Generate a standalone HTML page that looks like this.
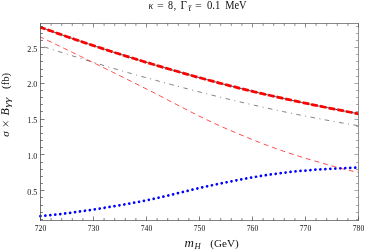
<!DOCTYPE html>
<html><head><meta charset="utf-8"><style>
html,body{margin:0;padding:0;background:#fff;}
svg{display:block;will-change:transform;transform:translateZ(0)}
text{font-family:"Liberation Serif",serif;fill:#111}
</style></head><body>
<svg width="374" height="252" viewBox="0 0 374 252">
<defs><clipPath id="c"><rect x="38.9" y="23.5" width="321.2" height="197.0"/></clipPath></defs>
<g clip-path="url(#c)" fill="none">
<path d="M40.40,45.70 L43.07,46.55 L45.75,47.40 L48.42,48.25 L51.10,49.09 L53.77,49.94 L56.44,50.79 L59.12,51.64 L61.79,52.48 L64.47,53.33 L67.14,54.17 L69.81,55.01 L72.49,55.85 L75.16,56.69 L77.84,57.52 L80.51,58.36 L83.18,59.19 L85.86,60.02 L88.53,60.85 L91.21,61.67 L93.88,62.49 L96.55,63.31 L99.23,64.12 L101.90,64.93 L104.57,65.73 L107.25,66.54 L109.92,67.33 L112.60,68.13 L115.27,68.92 L117.94,69.70 L120.62,70.48 L123.29,71.25 L125.97,72.02 L128.64,72.79 L131.31,73.55 L133.99,74.31 L136.66,75.06 L139.34,75.81 L142.01,76.55 L144.68,77.30 L147.36,78.04 L150.03,78.77 L152.71,79.51 L155.38,80.24 L158.05,80.97 L160.73,81.70 L163.40,82.42 L166.08,83.15 L168.75,83.87 L171.42,84.59 L174.10,85.31 L176.77,86.02 L179.45,86.73 L182.12,87.44 L184.79,88.15 L187.47,88.85 L190.14,89.55 L192.82,90.25 L195.49,90.94 L198.16,91.63 L200.84,92.31 L203.51,92.99 L206.18,93.67 L208.86,94.34 L211.53,95.01 L214.21,95.67 L216.88,96.34 L219.55,96.99 L222.23,97.65 L224.90,98.30 L227.58,98.94 L230.25,99.58 L232.92,100.22 L235.60,100.86 L238.27,101.49 L240.95,102.12 L243.62,102.75 L246.29,103.37 L248.97,103.99 L251.64,104.61 L254.32,105.22 L256.99,105.83 L259.66,106.44 L262.34,107.04 L265.01,107.63 L267.69,108.23 L270.36,108.82 L273.03,109.40 L275.71,109.98 L278.38,110.55 L281.06,111.12 L283.73,111.69 L286.40,112.25 L289.08,112.81 L291.75,113.36 L294.43,113.90 L297.10,114.44 L299.77,114.98 L302.45,115.51 L305.12,116.04 L307.79,116.56 L310.47,117.08 L313.14,117.60 L315.82,118.11 L318.49,118.62 L321.16,119.12 L323.84,119.62 L326.51,120.11 L329.19,120.60 L331.86,121.09 L334.53,121.57 L337.21,122.05 L339.88,122.52 L342.56,123.00 L345.23,123.46 L347.90,123.93 L350.58,124.39 L353.25,124.85 L355.93,125.30 L358.60,125.75" stroke="#444" stroke-width="0.68" stroke-dasharray="4.5 4.5 1 4.5" stroke-dashoffset="10.4"/>
<path d="M40.40,37.00 L43.07,38.27 L45.75,39.54 L48.42,40.82 L51.10,42.10 L53.77,43.38 L56.44,44.67 L59.12,45.96 L61.79,47.25 L64.47,48.54 L67.14,49.84 L69.81,51.14 L72.49,52.44 L75.16,53.74 L77.84,55.04 L80.51,56.35 L83.18,57.66 L85.86,58.97 L88.53,60.28 L91.21,61.59 L93.88,62.90 L96.55,64.22 L99.23,65.54 L101.90,66.86 L104.57,68.17 L107.25,69.49 L109.92,70.82 L112.60,72.14 L115.27,73.46 L117.94,74.78 L120.62,76.11 L123.29,77.43 L125.97,78.76 L128.64,80.08 L131.31,81.41 L133.99,82.74 L136.66,84.07 L139.34,85.41 L142.01,86.75 L144.68,88.10 L147.36,89.45 L150.03,90.80 L152.71,92.16 L155.38,93.52 L158.05,94.90 L160.73,96.28 L163.40,97.66 L166.08,99.05 L168.75,100.45 L171.42,101.84 L174.10,103.24 L176.77,104.64 L179.45,106.03 L182.12,107.42 L184.79,108.81 L187.47,110.18 L190.14,111.55 L192.82,112.91 L195.49,114.26 L198.16,115.59 L200.84,116.91 L203.51,118.21 L206.18,119.50 L208.86,120.77 L211.53,122.03 L214.21,123.27 L216.88,124.49 L219.55,125.70 L222.23,126.89 L224.90,128.07 L227.58,129.23 L230.25,130.38 L232.92,131.52 L235.60,132.66 L238.27,133.78 L240.95,134.89 L243.62,136.00 L246.29,137.11 L248.97,138.20 L251.64,139.28 L254.32,140.36 L256.99,141.42 L259.66,142.47 L262.34,143.51 L265.01,144.53 L267.69,145.54 L270.36,146.53 L273.03,147.51 L275.71,148.48 L278.38,149.43 L281.06,150.37 L283.73,151.29 L286.40,152.20 L289.08,153.10 L291.75,153.98 L294.43,154.84 L297.10,155.69 L299.77,156.53 L302.45,157.35 L305.12,158.16 L307.79,158.95 L310.47,159.74 L313.14,160.52 L315.82,161.29 L318.49,162.06 L321.16,162.84 L323.84,163.61 L326.51,164.38 L329.19,165.14 L331.86,165.89 L334.53,166.63 L337.21,167.36 L339.88,168.07 L342.56,168.76 L345.23,169.42 L347.90,170.06 L350.58,170.67 L353.25,171.25 L355.93,171.79 L358.60,172.30" stroke="#ff0000" stroke-width="0.72" stroke-dasharray="5.0 3.9" stroke-dashoffset="1.4"/>
<path d="M40.40,27.20 L43.07,28.17 L45.75,29.13 L48.42,30.09 L51.10,31.05 L53.77,32.00 L56.44,32.94 L59.12,33.89 L61.79,34.82 L64.47,35.76 L67.14,36.69 L69.81,37.61 L72.49,38.53 L75.16,39.45 L77.84,40.36 L80.51,41.27 L83.18,42.18 L85.86,43.08 L88.53,43.97 L91.21,44.86 L93.88,45.75 L96.55,46.63 L99.23,47.51 L101.90,48.39 L104.57,49.26 L107.25,50.13 L109.92,50.99 L112.60,51.85 L115.27,52.70 L117.94,53.55 L120.62,54.40 L123.29,55.24 L125.97,56.07 L128.64,56.91 L131.31,57.74 L133.99,58.56 L136.66,59.38 L139.34,60.20 L142.01,61.02 L144.68,61.83 L147.36,62.63 L150.03,63.44 L152.71,64.24 L155.38,65.03 L158.05,65.83 L160.73,66.61 L163.40,67.40 L166.08,68.18 L168.75,68.96 L171.42,69.74 L174.10,70.51 L176.77,71.28 L179.45,72.04 L182.12,72.80 L184.79,73.56 L187.47,74.32 L190.14,75.07 L192.82,75.81 L195.49,76.56 L198.16,77.29 L200.84,78.03 L203.51,78.76 L206.18,79.49 L208.86,80.21 L211.53,80.93 L214.21,81.65 L216.88,82.36 L219.55,83.06 L222.23,83.76 L224.90,84.46 L227.58,85.15 L230.25,85.84 L232.92,86.52 L235.60,87.20 L238.27,87.87 L240.95,88.54 L243.62,89.20 L246.29,89.85 L248.97,90.50 L251.64,91.15 L254.32,91.79 L256.99,92.42 L259.66,93.05 L262.34,93.68 L265.01,94.30 L267.69,94.92 L270.36,95.53 L273.03,96.14 L275.71,96.74 L278.38,97.34 L281.06,97.93 L283.73,98.53 L286.40,99.11 L289.08,99.70 L291.75,100.28 L294.43,100.85 L297.10,101.43 L299.77,102.00 L302.45,102.56 L305.12,103.13 L307.79,103.69 L310.47,104.24 L313.14,104.79 L315.82,105.35 L318.49,105.89 L321.16,106.44 L323.84,106.98 L326.51,107.52 L329.19,108.05 L331.86,108.59 L334.53,109.12 L337.21,109.65 L339.88,110.17 L342.56,110.70 L345.23,111.22 L347.90,111.74 L350.58,112.26 L353.25,112.77 L355.93,113.29 L358.60,113.80" stroke="#333" stroke-width="0.9"/>
<path d="M40.40,27.20 L43.07,28.17 L45.75,29.13 L48.42,30.09 L51.10,31.05 L53.77,32.00 L56.44,32.94 L59.12,33.89 L61.79,34.82 L64.47,35.76 L67.14,36.69 L69.81,37.61 L72.49,38.53 L75.16,39.45 L77.84,40.36 L80.51,41.27 L83.18,42.18 L85.86,43.08 L88.53,43.97 L91.21,44.86 L93.88,45.75 L96.55,46.63 L99.23,47.51 L101.90,48.39 L104.57,49.26 L107.25,50.13 L109.92,50.99 L112.60,51.85 L115.27,52.70 L117.94,53.55 L120.62,54.40 L123.29,55.24 L125.97,56.07 L128.64,56.91 L131.31,57.74 L133.99,58.56 L136.66,59.38 L139.34,60.20 L142.01,61.02 L144.68,61.83 L147.36,62.63 L150.03,63.44 L152.71,64.24 L155.38,65.03 L158.05,65.83 L160.73,66.61 L163.40,67.40 L166.08,68.18 L168.75,68.96 L171.42,69.74 L174.10,70.51 L176.77,71.28 L179.45,72.04 L182.12,72.80 L184.79,73.56 L187.47,74.32 L190.14,75.07 L192.82,75.81 L195.49,76.56 L198.16,77.29 L200.84,78.03 L203.51,78.76 L206.18,79.49 L208.86,80.21 L211.53,80.93 L214.21,81.65 L216.88,82.36 L219.55,83.06 L222.23,83.76 L224.90,84.46 L227.58,85.15 L230.25,85.84 L232.92,86.52 L235.60,87.20 L238.27,87.87 L240.95,88.54 L243.62,89.20 L246.29,89.85 L248.97,90.50 L251.64,91.15 L254.32,91.79 L256.99,92.42 L259.66,93.05 L262.34,93.68 L265.01,94.30 L267.69,94.92 L270.36,95.53 L273.03,96.14 L275.71,96.74 L278.38,97.34 L281.06,97.93 L283.73,98.53 L286.40,99.11 L289.08,99.70 L291.75,100.28 L294.43,100.85 L297.10,101.43 L299.77,102.00 L302.45,102.56 L305.12,103.13 L307.79,103.69 L310.47,104.24 L313.14,104.79 L315.82,105.35 L318.49,105.89 L321.16,106.44 L323.84,106.98 L326.51,107.52 L329.19,108.05 L331.86,108.59 L334.53,109.12 L337.21,109.65 L339.88,110.17 L342.56,110.70 L345.23,111.22 L347.90,111.74 L350.58,112.26 L353.25,112.77 L355.93,113.29 L358.60,113.80" stroke="#ff0000" stroke-width="2.75" stroke-dasharray="6.7 2.15" stroke-dashoffset="1.3"/>
<path d="M40.40,216.10 L43.07,215.88 L45.75,215.64 L48.42,215.38 L51.10,215.11 L53.77,214.83 L56.44,214.53 L59.12,214.22 L61.79,213.90 L64.47,213.57 L67.14,213.23 L69.81,212.87 L72.49,212.51 L75.16,212.15 L77.84,211.77 L80.51,211.39 L83.18,211.01 L85.86,210.61 L88.53,210.22 L91.21,209.82 L93.88,209.42 L96.55,209.01 L99.23,208.60 L101.90,208.19 L104.57,207.77 L107.25,207.35 L109.92,206.92 L112.60,206.49 L115.27,206.05 L117.94,205.60 L120.62,205.15 L123.29,204.68 L125.97,204.21 L128.64,203.73 L131.31,203.25 L133.99,202.75 L136.66,202.25 L139.34,201.73 L142.01,201.20 L144.68,200.67 L147.36,200.12 L150.03,199.56 L152.71,199.00 L155.38,198.42 L158.05,197.83 L160.73,197.24 L163.40,196.63 L166.08,196.02 L168.75,195.39 L171.42,194.76 L174.10,194.12 L176.77,193.48 L179.45,192.83 L182.12,192.18 L184.79,191.52 L187.47,190.87 L190.14,190.23 L192.82,189.58 L195.49,188.95 L198.16,188.32 L200.84,187.71 L203.51,187.11 L206.18,186.51 L208.86,185.93 L211.53,185.36 L214.21,184.80 L216.88,184.24 L219.55,183.69 L222.23,183.15 L224.90,182.61 L227.58,182.08 L230.25,181.55 L232.92,181.03 L235.60,180.51 L238.27,179.99 L240.95,179.48 L243.62,178.98 L246.29,178.48 L248.97,178.00 L251.64,177.52 L254.32,177.05 L256.99,176.60 L259.66,176.15 L262.34,175.72 L265.01,175.31 L267.69,174.90 L270.36,174.51 L273.03,174.14 L275.71,173.77 L278.38,173.42 L281.06,173.08 L283.73,172.75 L286.40,172.43 L289.08,172.13 L291.75,171.83 L294.43,171.55 L297.10,171.28 L299.77,171.02 L302.45,170.77 L305.12,170.54 L307.79,170.31 L310.47,170.09 L313.14,169.89 L315.82,169.69 L318.49,169.51 L321.16,169.33 L323.84,169.16 L326.51,169.00 L329.19,168.84 L331.86,168.70 L334.53,168.56 L337.21,168.43 L339.88,168.31 L342.56,168.19 L345.23,168.08 L347.90,167.97 L350.58,167.87 L353.25,167.78 L355.93,167.69 L358.60,167.60" stroke="#0000ff" stroke-width="2.75" stroke-dasharray="0.01 4.975" stroke-linecap="round"/>
</g>
<g stroke-width="0.75" fill="none" stroke-linecap="square">
<path d="M40.5,23.5 V220.5" stroke="#444"/><path d="M40.5,220.5 H358.5" stroke="#5a5a5a"/>
<path d="M40.5,23.5 H358.5" stroke="#606060"/><path d="M358.5,23.5 V220.5" stroke="#707070"/>
</g>
<g stroke="#444" stroke-width="0.7">
<line x1="40.50" y1="220.5" x2="40.50" y2="216.50"/>
<line x1="51.10" y1="220.5" x2="51.10" y2="218.10"/>
<line x1="61.70" y1="220.5" x2="61.70" y2="218.10"/>
<line x1="72.30" y1="220.5" x2="72.30" y2="218.10"/>
<line x1="82.90" y1="220.5" x2="82.90" y2="218.10"/>
<line x1="93.50" y1="220.5" x2="93.50" y2="216.50"/>
<line x1="104.10" y1="220.5" x2="104.10" y2="218.10"/>
<line x1="114.70" y1="220.5" x2="114.70" y2="218.10"/>
<line x1="125.30" y1="220.5" x2="125.30" y2="218.10"/>
<line x1="135.90" y1="220.5" x2="135.90" y2="218.10"/>
<line x1="146.50" y1="220.5" x2="146.50" y2="216.50"/>
<line x1="157.10" y1="220.5" x2="157.10" y2="218.10"/>
<line x1="167.70" y1="220.5" x2="167.70" y2="218.10"/>
<line x1="178.30" y1="220.5" x2="178.30" y2="218.10"/>
<line x1="188.90" y1="220.5" x2="188.90" y2="218.10"/>
<line x1="199.50" y1="220.5" x2="199.50" y2="216.50"/>
<line x1="210.10" y1="220.5" x2="210.10" y2="218.10"/>
<line x1="220.70" y1="220.5" x2="220.70" y2="218.10"/>
<line x1="231.30" y1="220.5" x2="231.30" y2="218.10"/>
<line x1="241.90" y1="220.5" x2="241.90" y2="218.10"/>
<line x1="252.50" y1="220.5" x2="252.50" y2="216.50"/>
<line x1="263.10" y1="220.5" x2="263.10" y2="218.10"/>
<line x1="273.70" y1="220.5" x2="273.70" y2="218.10"/>
<line x1="284.30" y1="220.5" x2="284.30" y2="218.10"/>
<line x1="294.90" y1="220.5" x2="294.90" y2="218.10"/>
<line x1="305.50" y1="220.5" x2="305.50" y2="216.50"/>
<line x1="316.10" y1="220.5" x2="316.10" y2="218.10"/>
<line x1="326.70" y1="220.5" x2="326.70" y2="218.10"/>
<line x1="337.30" y1="220.5" x2="337.30" y2="218.10"/>
<line x1="347.90" y1="220.5" x2="347.90" y2="218.10"/>
<line x1="358.50" y1="220.5" x2="358.50" y2="216.50"/>
<line x1="40.5" y1="219.50" x2="42.90" y2="219.50"/>
<line x1="40.5" y1="212.50" x2="42.90" y2="212.50"/>
<line x1="40.5" y1="205.50" x2="42.90" y2="205.50"/>
<line x1="40.5" y1="197.50" x2="42.90" y2="197.50"/>
<line x1="40.5" y1="190.50" x2="44.50" y2="190.50"/>
<line x1="40.5" y1="183.50" x2="42.90" y2="183.50"/>
<line x1="40.5" y1="176.50" x2="42.90" y2="176.50"/>
<line x1="40.5" y1="169.50" x2="42.90" y2="169.50"/>
<line x1="40.5" y1="162.50" x2="42.90" y2="162.50"/>
<line x1="40.5" y1="154.50" x2="44.50" y2="154.50"/>
<line x1="40.5" y1="147.50" x2="42.90" y2="147.50"/>
<line x1="40.5" y1="140.50" x2="42.90" y2="140.50"/>
<line x1="40.5" y1="133.50" x2="42.90" y2="133.50"/>
<line x1="40.5" y1="126.50" x2="42.90" y2="126.50"/>
<line x1="40.5" y1="119.50" x2="44.50" y2="119.50"/>
<line x1="40.5" y1="111.50" x2="42.90" y2="111.50"/>
<line x1="40.5" y1="104.50" x2="42.90" y2="104.50"/>
<line x1="40.5" y1="97.50" x2="42.90" y2="97.50"/>
<line x1="40.5" y1="90.50" x2="42.90" y2="90.50"/>
<line x1="40.5" y1="83.50" x2="44.50" y2="83.50"/>
<line x1="40.5" y1="76.50" x2="42.90" y2="76.50"/>
<line x1="40.5" y1="69.50" x2="42.90" y2="69.50"/>
<line x1="40.5" y1="61.50" x2="42.90" y2="61.50"/>
<line x1="40.5" y1="54.50" x2="42.90" y2="54.50"/>
<line x1="40.5" y1="47.50" x2="44.50" y2="47.50"/>
<line x1="40.5" y1="40.50" x2="42.90" y2="40.50"/>
<line x1="40.5" y1="33.50" x2="42.90" y2="33.50"/>
<line x1="40.5" y1="26.50" x2="42.90" y2="26.50"/>
</g>
<g stroke="#5a5a5a" stroke-width="0.7">
<line x1="40.50" y1="23.5" x2="40.50" y2="27.50"/>
<line x1="51.10" y1="23.5" x2="51.10" y2="25.90"/>
<line x1="61.70" y1="23.5" x2="61.70" y2="25.90"/>
<line x1="72.30" y1="23.5" x2="72.30" y2="25.90"/>
<line x1="82.90" y1="23.5" x2="82.90" y2="25.90"/>
<line x1="93.50" y1="23.5" x2="93.50" y2="27.50"/>
<line x1="104.10" y1="23.5" x2="104.10" y2="25.90"/>
<line x1="114.70" y1="23.5" x2="114.70" y2="25.90"/>
<line x1="125.30" y1="23.5" x2="125.30" y2="25.90"/>
<line x1="135.90" y1="23.5" x2="135.90" y2="25.90"/>
<line x1="146.50" y1="23.5" x2="146.50" y2="27.50"/>
<line x1="157.10" y1="23.5" x2="157.10" y2="25.90"/>
<line x1="167.70" y1="23.5" x2="167.70" y2="25.90"/>
<line x1="178.30" y1="23.5" x2="178.30" y2="25.90"/>
<line x1="188.90" y1="23.5" x2="188.90" y2="25.90"/>
<line x1="199.50" y1="23.5" x2="199.50" y2="27.50"/>
<line x1="210.10" y1="23.5" x2="210.10" y2="25.90"/>
<line x1="220.70" y1="23.5" x2="220.70" y2="25.90"/>
<line x1="231.30" y1="23.5" x2="231.30" y2="25.90"/>
<line x1="241.90" y1="23.5" x2="241.90" y2="25.90"/>
<line x1="252.50" y1="23.5" x2="252.50" y2="27.50"/>
<line x1="263.10" y1="23.5" x2="263.10" y2="25.90"/>
<line x1="273.70" y1="23.5" x2="273.70" y2="25.90"/>
<line x1="284.30" y1="23.5" x2="284.30" y2="25.90"/>
<line x1="294.90" y1="23.5" x2="294.90" y2="25.90"/>
<line x1="305.50" y1="23.5" x2="305.50" y2="27.50"/>
<line x1="316.10" y1="23.5" x2="316.10" y2="25.90"/>
<line x1="326.70" y1="23.5" x2="326.70" y2="25.90"/>
<line x1="337.30" y1="23.5" x2="337.30" y2="25.90"/>
<line x1="347.90" y1="23.5" x2="347.90" y2="25.90"/>
<line x1="358.50" y1="23.5" x2="358.50" y2="27.50"/>
</g>
<g stroke="#808080" stroke-width="0.7">
<line x1="358.5" y1="219.50" x2="356.10" y2="219.50"/>
<line x1="358.5" y1="212.50" x2="356.10" y2="212.50"/>
<line x1="358.5" y1="205.50" x2="356.10" y2="205.50"/>
<line x1="358.5" y1="197.50" x2="356.10" y2="197.50"/>
<line x1="358.5" y1="190.50" x2="354.50" y2="190.50"/>
<line x1="358.5" y1="183.50" x2="356.10" y2="183.50"/>
<line x1="358.5" y1="176.50" x2="356.10" y2="176.50"/>
<line x1="358.5" y1="169.50" x2="356.10" y2="169.50"/>
<line x1="358.5" y1="162.50" x2="356.10" y2="162.50"/>
<line x1="358.5" y1="154.50" x2="354.50" y2="154.50"/>
<line x1="358.5" y1="147.50" x2="356.10" y2="147.50"/>
<line x1="358.5" y1="140.50" x2="356.10" y2="140.50"/>
<line x1="358.5" y1="133.50" x2="356.10" y2="133.50"/>
<line x1="358.5" y1="126.50" x2="356.10" y2="126.50"/>
<line x1="358.5" y1="119.50" x2="354.50" y2="119.50"/>
<line x1="358.5" y1="111.50" x2="356.10" y2="111.50"/>
<line x1="358.5" y1="104.50" x2="356.10" y2="104.50"/>
<line x1="358.5" y1="97.50" x2="356.10" y2="97.50"/>
<line x1="358.5" y1="90.50" x2="356.10" y2="90.50"/>
<line x1="358.5" y1="83.50" x2="354.50" y2="83.50"/>
<line x1="358.5" y1="76.50" x2="356.10" y2="76.50"/>
<line x1="358.5" y1="69.50" x2="356.10" y2="69.50"/>
<line x1="358.5" y1="61.50" x2="356.10" y2="61.50"/>
<line x1="358.5" y1="54.50" x2="356.10" y2="54.50"/>
<line x1="358.5" y1="47.50" x2="354.50" y2="47.50"/>
<line x1="358.5" y1="40.50" x2="356.10" y2="40.50"/>
<line x1="358.5" y1="33.50" x2="356.10" y2="33.50"/>
<line x1="358.5" y1="26.50" x2="356.10" y2="26.50"/>
</g>
<g font-size="9px" fill="#222">
<text x="40.50" y="231" text-anchor="middle" textLength="11.5" lengthAdjust="spacingAndGlyphs">720</text>
<text x="93.50" y="231" text-anchor="middle" textLength="11.5" lengthAdjust="spacingAndGlyphs">730</text>
<text x="146.50" y="231" text-anchor="middle" textLength="11.5" lengthAdjust="spacingAndGlyphs">740</text>
<text x="199.50" y="231" text-anchor="middle" textLength="11.5" lengthAdjust="spacingAndGlyphs">750</text>
<text x="252.50" y="231" text-anchor="middle" textLength="11.5" lengthAdjust="spacingAndGlyphs">760</text>
<text x="305.50" y="231" text-anchor="middle" textLength="11.5" lengthAdjust="spacingAndGlyphs">770</text>
<text x="358.50" y="231" text-anchor="middle" textLength="11.5" lengthAdjust="spacingAndGlyphs">780</text>
<text x="37.2" y="194.60" text-anchor="end" textLength="10" lengthAdjust="spacingAndGlyphs">0.5</text>
<text x="37.2" y="158.82" text-anchor="end" textLength="10" lengthAdjust="spacingAndGlyphs">1.0</text>
<text x="37.2" y="123.05" text-anchor="end" textLength="10" lengthAdjust="spacingAndGlyphs">1.5</text>
<text x="37.2" y="87.28" text-anchor="end" textLength="10" lengthAdjust="spacingAndGlyphs">2.0</text>
<text x="37.2" y="51.50" text-anchor="end" textLength="10" lengthAdjust="spacingAndGlyphs">2.5</text>
</g>
<!-- title -->
<g font-size="11px" fill="#1a1a1a">
<text x="148.5" y="8.6" font-style="italic" font-size="10px" textLength="4.8" lengthAdjust="spacingAndGlyphs">κ</text>
<text x="156.9" y="8.6" textLength="6.8" lengthAdjust="spacingAndGlyphs">=</text>
<text x="167.9" y="8.6" font-size="11.6px" textLength="5.0" lengthAdjust="spacingAndGlyphs">8</text>
<text x="173.5" y="8.6">,</text>
<text x="180.6" y="8.6" font-size="11.6px" textLength="6.4" lengthAdjust="spacingAndGlyphs">Γ</text>
<text x="188.6" y="10.5" font-size="9px" font-style="italic" fill="#000">t</text>
<path d="M188.4,6.2 q0.8,-1.0 1.6,-0.4 t1.6,-0.5" stroke="#111" stroke-width="0.65" fill="none"/>
<text x="195.1" y="8.6" textLength="6.8" lengthAdjust="spacingAndGlyphs">=</text>
<text x="207.0" y="8.6" font-size="11.6px" textLength="13.4" lengthAdjust="spacingAndGlyphs">0.1</text>
<text x="225.2" y="8.6" font-size="11.6px" textLength="21.4" lengthAdjust="spacingAndGlyphs">MeV</text>
</g>
<!-- x label -->
<g font-size="11px" fill="#1a1a1a">
<text x="184.5" y="247.4" font-style="italic" font-size="11.5px" textLength="9.4" lengthAdjust="spacingAndGlyphs">m</text>
<text x="194.4" y="249.2" font-style="italic" font-size="8px" textLength="6.2" lengthAdjust="spacingAndGlyphs">H</text>
<text x="210.3" y="247.4" textLength="28.4" lengthAdjust="spacingAndGlyphs">(GeV)</text>
</g>
<!-- y label -->
<g font-size="11px" transform="translate(9.1,137) rotate(-90)">
<text x="0.2" y="0" font-style="italic">σ</text>
<path d="M10.7,-5.9 L15.6,-1 M15.6,-5.9 L10.7,-1" stroke="#111" stroke-width="0.8" fill="none"/>
<text x="21.6" y="0" font-style="italic" font-size="12px">B</text>
<text x="29.6" y="0.7" font-style="italic" font-size="9px" fill="#333" textLength="9.6" lengthAdjust="spacingAndGlyphs">γγ</text>
<text x="48.1" y="0" textLength="16" lengthAdjust="spacingAndGlyphs">(fb)</text>
</g>
</svg>
</body></html>
